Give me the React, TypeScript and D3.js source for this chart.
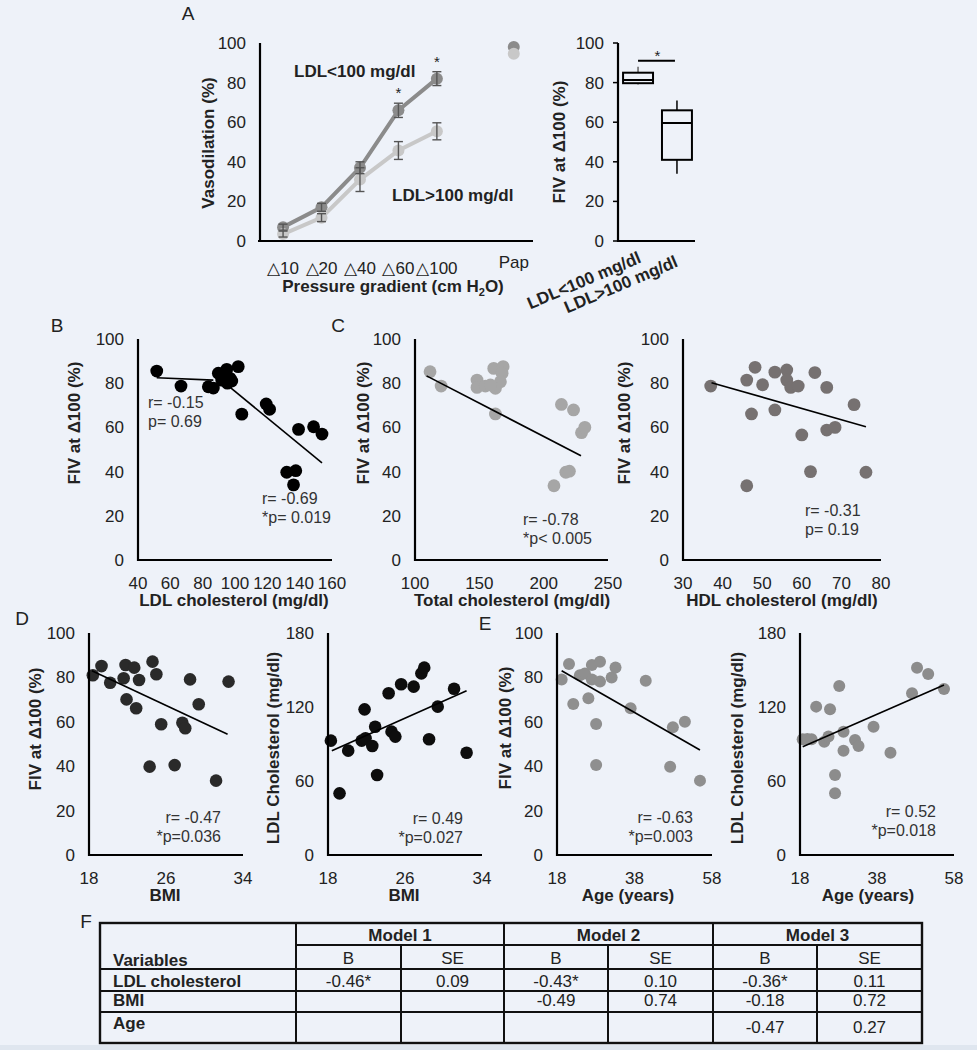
import React, { useEffect } from "react";
import * as d3 from "d3";

// ---------------- Data ----------------
// Panel A (line chart)
const pressureCategories = ["△10", "△20", "△40", "△60", "△100", "Pap"];
const ldlLowMean = [7, 17, 37, 66, 82, 98];
const ldlLowSem = [1.5, 2, 3, 3.6, 3.5, 0];
const ldlHighMean = [3.5, 11.8, 31, 45.7, 55.4, 94.6];
const ldlHighSem = [1.5, 2, 6, 4.5, 4.3, 0];
const significantAt = ["△60", "△100"];

// Panel A (box plot)
const boxGroups = ["LDL<100 mg/dl", "LDL>100 mg/dl"];
const boxMin = [79, 34];
const boxQ1 = [79.7, 41];
const boxMedian = [81.3, 59.6];
const boxQ3 = [85, 66];
const boxMax = [88, 71];
const boxSigLevel = 91;

// Panel B: LDL vs FIV
const bLdl = [51.6, 66.6, 83.5, 86.6, 89.7, 94.9, 102, 97, 95.3, 91.8, 98, 104.2, 119.3, 121.4, 139.3, 148.6, 153.8, 132, 137.6, 136.2];
const bFiv = [85.5, 78.7, 78.4, 77.8, 84.5, 86.3, 87.5, 82.2, 80, 81.4, 81, 66, 70.6, 68.2, 59.1, 60.3, 57, 39.7, 40.4, 34];
const bFitLowX = [51.6, 86.6];
const bFitLowY = [82.5, 81.4];
const bFitHighX = [97, 153.8];
const bFitHighY = [78.1, 44];

// Panel C: total cholesterol vs FIV
const cTotal = [111.7, 120.3, 148.2, 148.2, 154.7, 161.2, 168.5, 167.7, 166.4, 162.5, 158.6, 162.5, 213.8, 223.2, 229.4, 232, 217.2, 220, 208];
const cFiv = [85.2, 78.7, 81.4, 78.1, 78.7, 86.7, 87.5, 84.5, 80.7, 77.7, 79.2, 66.1, 70.4, 67.9, 57.6, 60, 39.7, 40.2, 33.6];
const cFitX = [109, 229];
const cFitY = [83.3, 47.2];

// Panel C: HDL vs FIV
const hHdl = [37, 46.1, 48.2, 50.1, 53.2, 56.2, 56.2, 57.2, 59.1, 63.3, 66.3, 73.2, 47.3, 53.2, 60, 66.3, 68.4, 62.2, 76.2, 46.1];
const hFiv = [78.7, 81.4, 87.2, 79.3, 85, 86, 81.4, 78.1, 78.7, 84.8, 78.1, 70.3, 66.1, 67.9, 56.6, 58.8, 60, 40, 39.7, 33.6];
const hFitX = [37.2, 76.2];
const hFitY = [80.2, 60.3];

// Panel D: BMI vs FIV
const dBmi = [18.4, 19.3, 20.2, 21.6, 21.8, 22.7, 23.2, 21.9, 22.9, 24.6, 25, 25.5, 24.3, 26.9, 27.7, 28, 28.5, 29.4, 31.2, 32.5];
const dFiv = [81, 85.1, 77.6, 79.6, 85.6, 84.4, 78.8, 70.1, 66.1, 87.1, 81.4, 58.9, 39.8, 40.5, 59.6, 57.1, 79.1, 67.9, 33.5, 78.1];
const dFitX = [18.3, 32.4];
const dFitY = [83, 54.4];

// Panel D: BMI vs LDL
const dBmi2 = [18.3, 19.2, 20.1, 21.5, 21.8, 21.9, 22.6, 22.9, 23.1, 24.3, 24.6, 25, 25.6, 26.9, 27.7, 28, 28.5, 29.4, 31.1, 32.4];
const dLdl = [92.7, 50, 84.6, 92.7, 118.1, 94.6, 88.4, 104, 64.9, 131.1, 100, 96, 138.4, 136.5, 147.3, 151.9, 93.8, 120.3, 134.8, 82.9];
const dFit2X = [18.4, 32.4];
const dFit2Y = [84.6, 133.2];

// Panel E: age vs FIV
const eAge = [19.2, 21.1, 22.2, 23.9, 25.2, 26.1, 27, 27, 28.1, 28.1, 29.1, 29.1, 32.1, 33.1, 37, 40.9, 47.9, 51, 47.2, 54.9];
const eFiv = [79.1, 86, 68, 81, 81.8, 70.6, 85.6, 79.1, 59, 40.5, 87.1, 78.1, 80, 84.5, 66.1, 78.5, 57.5, 60, 39.8, 33.5];
const eFitX = [19.2, 54.9];
const eFitY = [83, 47.3];

// Panel E: age vs LDL
const eAge2 = [18.7, 19.9, 21, 22.2, 24.3, 25.4, 25.8, 27.1, 27.1, 28.2, 29.3, 29.3, 32.3, 33.2, 37.1, 41.5, 47.1, 48.4, 51.3, 55.4];
const eLdl = [93.8, 94, 93.8, 120.3, 91.9, 96, 118.1, 64.9, 50, 137, 100, 84.6, 93.2, 88.4, 104, 82.9, 131.1, 151.9, 146.8, 134.6];
const eFit2X = [18.7, 55.4];
const eFit2Y = [87.8, 137.8];

// Tick values
const fivTicks = [0, 20, 40, 60, 80, 100];
const ldlTicks = [0, 60, 120, 180];
const bXTicks = [40, 60, 80, 100, 120, 140, 160];
const cXTicks = [100, 150, 200, 250];
const hXTicks = [30, 40, 50, 60, 70, 80];
const bmiTicks = [18, 26, 34];
const ageTicks = [18, 38, 58];

// Panel F table
const tableModels = ["Model 1", "Model 2", "Model 3"];
const tableVariables = ["LDL cholesterol", "BMI", "Age"];
const model1B = ["-0.46*", "", ""];
const model1SE = ["0.09", "", ""];
const model2B = ["-0.43*", "-0.49", ""];
const model2SE = ["0.10", "0.74", ""];
const model3B = ["-0.36*", "-0.18", "-0.47"];
const model3SE = ["0.11", "0.72", "0.27"];

// ---------------- Styling ----------------
const FONT = "'Liberation Sans', Arial, Helvetica, sans-serif";
const BG = "#eef2f9";
const TXT = "#222";

type Note = { lines: string[]; x: number; y: number; anchor: "start" | "end" };
type Fit = { x: number[]; y: number[] };
type ScatterProps = {
  xs: number[]; ys: number[]; fits: Fit[]; color: string; r: number;
  xRange: [number, number]; yRange: [number, number];
  xDomain: [number, number]; yDomain: [number, number];
  xTicks: number[]; yTicks: number[];
  xTitle: string; xTitleX: number;
  yTitle: string; yTitleX: number; yTitleY: number;
  notes: Note[];
};

function Scatter(p: ScatterProps) {
  const x = d3.scaleLinear().domain(p.xDomain).range(p.xRange);
  const y = d3.scaleLinear().domain(p.yDomain).range(p.yRange);
  const line = d3.line<[number, number]>().x((d) => x(d[0])).y((d) => y(d[1]));
  const [x0, x1] = p.xRange;
  const [yb, yt] = p.yRange;
  return (
    <g>
      {p.yTicks.map((t) => (
        <text key={"yt" + t} x={x0 - 14} y={y(t) + 6} textAnchor="end" fontSize={17} fill={TXT}>{t}</text>
      ))}
      {p.xTicks.map((t) => (
        <text key={"xt" + t} x={x(t)} y={yb + 29} textAnchor="middle" fontSize={17} fill={TXT}>{t}</text>
      ))}
      <text x={p.xTitleX} y={yb + 46} textAnchor="middle" fontSize={17} fontWeight="bold" fill={TXT}>{p.xTitle}</text>
      <text transform={`translate(${p.yTitleX},${p.yTitleY}) rotate(-90)`} textAnchor="middle" fontSize={17} fontWeight="bold" fill={TXT}>{p.yTitle}</text>
      {p.xs.map((v, i) => (
        <circle key={"pt" + i} cx={x(v)} cy={y(p.ys[i])} r={p.r} fill={p.color} />
      ))}
      {p.fits.map((f, i) => (
        <path key={"fit" + i} d={line(f.x.map((v, j) => [v, f.y[j]] as [number, number])) || ""} stroke="#000" strokeWidth={1.6} fill="none" />
      ))}
      <line x1={x0} x2={x0} y1={yt} y2={yb + 1} stroke="#000" strokeWidth={2.2} />
      <line x1={x0 - 1} x2={x1} y1={yb} y2={yb} stroke="#000" strokeWidth={2.2} />
      {p.notes.map((n, i) => (
        <text key={"n" + i} x={n.x} y={n.y} textAnchor={n.anchor} fontSize={16} fill="#333">
          {n.lines.map((l, j) => (
            <tspan key={j} x={n.x} dy={j === 0 ? 0 : 19}>{l}</tspan>
          ))}
        </text>
      ))}
    </g>
  );
}

function PanelALine() {
  const catIndex = (i: number) => (i < 5 ? i : 6);
  const x = d3.scaleLinear().domain([-0.6, 6.5]).range([260, 533]);
  const y = d3.scaleLinear().domain([0, 100]).range([241, 43]);
  const line = d3.line<number>().x((_, i) => x(catIndex(i))).y((d) => y(d));
  const trend = (arr: number[]) => arr.slice(0, 5);
  const series = [
    { mean: ldlLowMean, sem: ldlLowSem, color: "#8b8b8b" },
    { mean: ldlHighMean, sem: ldlHighSem, color: "#c8c8c8" },
  ];
  return (
    <g>
      {fivTicks.map((t) => (
        <text key={t} x={246} y={y(t) + 6} textAnchor="end" fontSize={17} fill={TXT}>{t}</text>
      ))}
      {series.map((s, k) => (
        <g key={k}>
          <path d={line(trend(s.mean)) || ""} stroke={s.color} strokeWidth={4} fill="none" />
          {s.mean.map((m, i) => (
            <circle key={i} cx={x(catIndex(i))} cy={y(m)} r={6} fill={s.color} />
          ))}
        </g>
      ))}
      {series.map((s, k) => (
        <g key={"e" + k}>
          {s.mean.map((m, i) =>
            s.sem[i] > 0 ? (
              <g key={i} stroke="#555" strokeWidth={1.4}>
                <line x1={x(catIndex(i))} x2={x(catIndex(i))} y1={y(m - s.sem[i])} y2={y(m + s.sem[i])} />
                <line x1={x(catIndex(i)) - 4.5} x2={x(catIndex(i)) + 4.5} y1={y(m - s.sem[i])} y2={y(m - s.sem[i])} />
                <line x1={x(catIndex(i)) - 4.5} x2={x(catIndex(i)) + 4.5} y1={y(m + s.sem[i])} y2={y(m + s.sem[i])} />
              </g>
            ) : null
          )}
        </g>
      ))}
      {significantAt.map((c) => {
        const i = pressureCategories.indexOf(c);
        return (
          <text key={c} x={x(catIndex(i))} y={y(ldlLowMean[i] + ldlLowSem[i]) - 5} textAnchor="middle" fontSize={15} fill={TXT}>*</text>
        );
      })}
      <line x1={260} x2={260} y1={43} y2={242} stroke="#000" strokeWidth={2.2} />
      <line x1={258} x2={533} y1={241} y2={241} stroke="#000" strokeWidth={2.2} />
      {pressureCategories.map((c, i) => (
        <text key={c} x={x(catIndex(i))} y={i < 5 ? 274 : 268} textAnchor="middle" fontSize={17} fill={TXT}>{c}</text>
      ))}
      <text x={393} y={292} textAnchor="middle" fontSize={17} fontWeight="bold" fill={TXT}>
        <tspan>Pressure gradient (cm H</tspan>
        <tspan fontSize={11} dy={4}>2</tspan>
        <tspan dy={-4}>O)</tspan>
      </text>
      <text transform="translate(214,143) rotate(-90)" textAnchor="middle" fontSize={17} fontWeight="bold" fill={TXT}>Vasodilation (%)</text>
      <text x={294} y={77} fontSize={17} fontWeight="bold" fill={TXT}>LDL&lt;100 mg/dl</text>
      <text x={392} y={201} fontSize={17} fontWeight="bold" fill={TXT}>LDL&gt;100 mg/dl</text>
    </g>
  );
}

function PanelABox() {
  const y = d3.scaleLinear().domain([0, 100]).range([241, 43]);
  const xb = d3.scaleBand().domain(boxGroups).range([618, 697]).paddingInner(0.23).paddingOuter(0.13);
  const bw = xb.bandwidth();
  const cx = (g: string) => (xb(g) as number) + bw / 2;
  return (
    <g>
      {fivTicks.map((t) => (
        <g key={t}>
          <text x={604} y={y(t) + 6} textAnchor="end" fontSize={17} fill={TXT}>{t}</text>
          <line x1={613} x2={618} y1={y(t)} y2={y(t)} stroke="#000" strokeWidth={1.5} />
        </g>
      ))}
      <line x1={618} x2={618} y1={43} y2={242} stroke="#000" strokeWidth={2.2} />
      <line x1={617} x2={695} y1={241} y2={241} stroke="#000" strokeWidth={2.2} />
      {boxGroups.map((g, i) => (
        <g key={g} stroke="#000" fill="none">
          <line x1={cx(g)} x2={cx(g)} y1={y(boxQ3[i])} y2={y(boxMax[i])} strokeWidth={1.5} stroke={i === 0 ? "#666" : "#000"} />
          <line x1={cx(g)} x2={cx(g)} y1={y(boxQ1[i])} y2={y(boxMin[i])} strokeWidth={1.5} stroke={i === 0 ? "#666" : "#000"} />
          <rect x={xb(g)} y={y(boxQ3[i])} width={bw} height={y(boxQ1[i]) - y(boxQ3[i])} strokeWidth={2} />
          <line x1={xb(g)} x2={(xb(g) as number) + bw} y1={y(boxMedian[i])} y2={y(boxMedian[i])} strokeWidth={2} />
        </g>
      ))}
      <line x1={cx(boxGroups[0])} x2={cx(boxGroups[1]) - 2} y1={y(boxSigLevel)} y2={y(boxSigLevel)} stroke="#000" strokeWidth={2} />
      <text x={(cx(boxGroups[0]) + cx(boxGroups[1])) / 2} y={y(boxSigLevel)} textAnchor="middle" fontSize={15} fill={TXT}>*</text>
      {boxGroups.map((g, i) => (
        <text key={"l" + g} transform={`translate(${cx(g) + 4 - i * 2},${262 + i * 4}) rotate(-23)`} textAnchor="end" fontSize={17} fontWeight="bold" fill={TXT}>{g}</text>
      ))}
      <text transform="translate(565,142) rotate(-90)" textAnchor="middle" fontSize={17} fontWeight="bold" fill={TXT}>FIV at Δ100 (%)</text>
    </g>
  );
}

function Table() {
  const cols = [100, 296, 401, 504, 608, 713, 817, 922];
  const rows = [923, 945, 969, 991, 1012, 1043];
  const modelB = [model1B, model2B, model3B];
  const modelSE = [model1SE, model2SE, model3SE];
  const rowBase = [987, 1006, 1033];
  const labelBase = [987, 1006, 1029];
  return (
    <g fontSize={17} fill={TXT}>
      <rect x={cols[0]} y={rows[0]} width={cols[7] - cols[0]} height={rows[5] - rows[0]} fill="none" stroke="#111" strokeWidth={2.4} />
      <line x1={cols[1]} x2={cols[7]} y1={rows[1]} y2={rows[1]} stroke="#111" strokeWidth={2} />
      {rows.slice(2, 5).map((r) => (
        <line key={r} x1={cols[0]} x2={cols[7]} y1={r} y2={r} stroke="#111" strokeWidth={2} />
      ))}
      {[1, 3, 5].map((c) => (
        <line key={c} x1={cols[c]} x2={cols[c]} y1={rows[0]} y2={rows[5]} stroke="#111" strokeWidth={2} />
      ))}
      {[2, 4, 6].map((c) => (
        <line key={c} x1={cols[c]} x2={cols[c]} y1={rows[1]} y2={rows[5]} stroke="#111" strokeWidth={2} />
      ))}
      {tableModels.map((m, k) => (
        <text key={m} x={(cols[1 + 2 * k] + cols[3 + 2 * k]) / 2} y={941} textAnchor="middle" fontWeight="bold">{m}</text>
      ))}
      {tableModels.map((m, k) => (
        <g key={"h" + m}>
          <text x={(cols[1 + 2 * k] + cols[2 + 2 * k]) / 2} y={964} textAnchor="middle">B</text>
          <text x={(cols[2 + 2 * k] + cols[3 + 2 * k]) / 2} y={964} textAnchor="middle">SE</text>
        </g>
      ))}
      <text x={113} y={966} fontWeight="bold">Variables</text>
      {tableVariables.map((v, i) => (
        <text key={v} x={113} y={labelBase[i]} fontWeight="bold">{v}</text>
      ))}
      {tableModels.map((m, k) =>
        tableVariables.map((v, i) => (
          <g key={m + v}>
            <text x={(cols[1 + 2 * k] + cols[2 + 2 * k]) / 2} y={rowBase[i]} textAnchor="middle">{modelB[k][i]}</text>
            <text x={(cols[2 + 2 * k] + cols[3 + 2 * k]) / 2} y={rowBase[i]} textAnchor="middle">{modelSE[k][i]}</text>
          </g>
        ))
      )}
    </g>
  );
}

export default function App() {
  useEffect(() => {
    document.body.style.margin = "0";
    document.body.style.background = BG;
  }, []);
  const fivTitle = "FIV at Δ100 (%)";
  const ldlTitle = "LDL Cholesterol (mg/dl)";
  return (
    <svg width={977} height={1050} style={{ display: "block", position: "absolute", left: 0, top: 0 }} fontFamily={FONT}>
      <rect x={0} y={0} width={977} height={1050} fill={BG} />
      <rect x={0} y={1045} width={977} height={5} fill="#dfe6ef" />
      <g fontSize={19} fill={TXT}>
        <text x={188} y={20} textAnchor="middle">A</text>
        <text x={57} y={332} textAnchor="middle">B</text>
        <text x={338} y={332} textAnchor="middle">C</text>
        <text x={22} y={625} textAnchor="middle">D</text>
        <text x={485} y={630} textAnchor="middle">E</text>
        <text x={86} y={928} textAnchor="middle">F</text>
      </g>
      <PanelALine />
      <PanelABox />
      <Scatter xs={bLdl} ys={bFiv} fits={[{ x: bFitLowX, y: bFitLowY }, { x: bFitHighX, y: bFitHighY }]} color="#000" r={6.4}
        xRange={[138, 332]} yRange={[560, 339]} xDomain={[40, 160]} yDomain={[0, 100]} xTicks={bXTicks} yTicks={fivTicks}
        xTitle="LDL cholesterol (mg/dl)" xTitleX={234} yTitle={fivTitle} yTitleX={80} yTitleY={423}
        notes={[{ lines: ["r= -0.15", "p= 0.69"], x: 148, y: 408, anchor: "start" }, { lines: ["r= -0.69", "*p= 0.019"], x: 262, y: 504, anchor: "start" }]} />
      <Scatter xs={cTotal} ys={cFiv} fits={[{ x: cFitX, y: cFitY }]} color="#a6a6a6" r={6.4}
        xRange={[415, 608]} yRange={[560, 339]} xDomain={[100, 250]} yDomain={[0, 100]} xTicks={cXTicks} yTicks={fivTicks}
        xTitle="Total cholesterol (mg/dl)" xTitleX={512} yTitle={fivTitle} yTitleX={369} yTitleY={423}
        notes={[{ lines: ["r= -0.78", "*p< 0.005"], x: 523, y: 525, anchor: "start" }]} />
      <Scatter xs={hHdl} ys={hFiv} fits={[{ x: hFitX, y: hFitY }]} color="#767171" r={6.4}
        xRange={[683, 881]} yRange={[560, 339]} xDomain={[30, 80]} yDomain={[0, 100]} xTicks={hXTicks} yTicks={fivTicks}
        xTitle="HDL cholesterol (mg/dl)" xTitleX={782} yTitle={fivTitle} yTitleX={630} yTitleY={423}
        notes={[{ lines: ["r= -0.31", "p= 0.19"], x: 805, y: 516, anchor: "start" }]} />
      <Scatter xs={dBmi} ys={dFiv} fits={[{ x: dFitX, y: dFitY }]} color="#2a2a2a" r={6.3}
        xRange={[89, 243]} yRange={[855, 633]} xDomain={[18, 34]} yDomain={[0, 100]} xTicks={bmiTicks} yTicks={fivTicks}
        xTitle="BMI" xTitleX={165} yTitle={fivTitle} yTitleX={41} yTitleY={729}
        notes={[{ lines: ["r= -0.47", "*p=0.036"], x: 221, y: 823, anchor: "end" }]} />
      <Scatter xs={dBmi2} ys={dLdl} fits={[{ x: dFit2X, y: dFit2Y }]} color="#0d0d0d" r={6.3}
        xRange={[328, 482]} yRange={[855, 633]} xDomain={[18, 34]} yDomain={[0, 180]} xTicks={bmiTicks} yTicks={ldlTicks}
        xTitle="BMI" xTitleX={404} yTitle={ldlTitle} yTitleX={279} yTitleY={748}
        notes={[{ lines: ["r= 0.49", "*p=0.027"], x: 463, y: 824, anchor: "end" }]} />
      <Scatter xs={eAge} ys={eFiv} fits={[{ x: eFitX, y: eFitY }]} color="#8f8f8f" r={6}
        xRange={[557, 712]} yRange={[855, 633]} xDomain={[18, 58]} yDomain={[0, 100]} xTicks={ageTicks} yTicks={fivTicks}
        xTitle="Age (years)" xTitleX={628} yTitle={fivTitle} yTitleX={511} yTitleY={728}
        notes={[{ lines: ["r= -0.63", "*p=0.003"], x: 693, y: 823, anchor: "end" }]} />
      <Scatter xs={eAge2} ys={eLdl} fits={[{ x: eFit2X, y: eFit2Y }]} color="#8c8c8c" r={6}
        xRange={[800, 954]} yRange={[855, 633]} xDomain={[18, 58]} yDomain={[0, 180]} xTicks={ageTicks} yTicks={ldlTicks}
        xTitle="Age (years)" xTitleX={868} yTitle={ldlTitle} yTitleX={743} yTitleY={748}
        notes={[{ lines: ["r= 0.52", "*p=0.018"], x: 936, y: 817, anchor: "end" }]} />
      <Table />
    </svg>
  );
}
